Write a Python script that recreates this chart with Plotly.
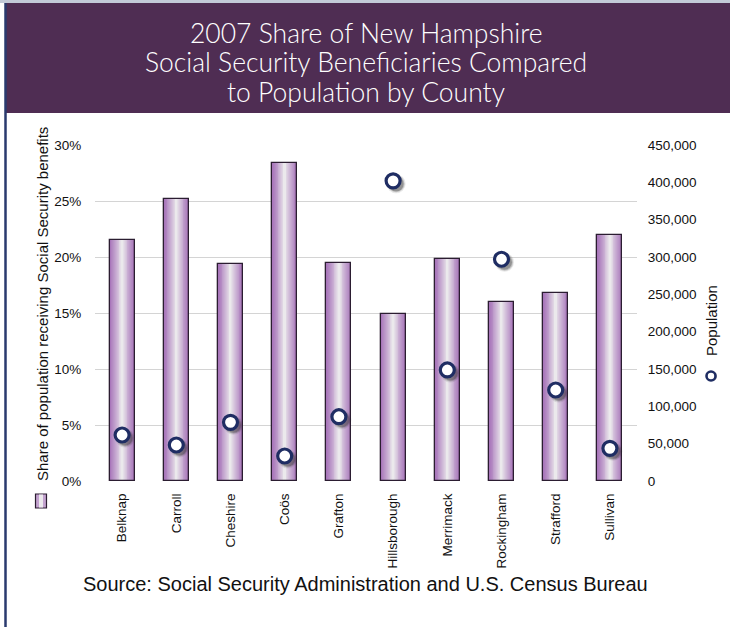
import plotly.graph_objects as go

# County data, 2007
counties = ["Belknap", "Carroll", "Cheshire", "Coös", "Grafton",
            "Hillsborough", "Merrimack", "Rockingham", "Strafford", "Sullivan"]
share_receiving = [0.215, 0.252, 0.1935, 0.284, 0.195,
                   0.149, 0.198, 0.1595, 0.1675, 0.2195]
population = [61600, 48200, 78600, 33500, 86100,
              402000, 148700, 297000, 121900, 43700]

share_ticks = [0, 0.05, 0.10, 0.15, 0.20, 0.25, 0.30]
pop_ticks = list(range(0, 450001, 50000))

title_lines = ["2007 Share of New Hampshire",
               "Social Security Beneficiaries Compared",
               "to Population by County"]

W, H = 730, 627
SH = 3  # marker shadow offset, px
L, R, T, B = 95, 93 - SH, 145, 146 - SH
PW, PH = W - L - R, H - T - B


def px_x(px):
    return (px - L) / PW


def px_y(py):
    return (H - B - py) / PH


def mix(c1, c2, t):
    return "#%02x%02x%02x" % tuple(round(a + (b - a) * t) for a, b in zip(c1, c2))


EDGE = (0xA8, 0x76, 0xBA)
MID = (0xEB, 0xE9, 0xEC)
OUTLINE = "#2b1d31"
NAVY = "#1f2d63"

fig = go.Figure()

# Bars (x/y): layers of shrinking width give a cylindrical shading
BAR_W = 0.46
N = 14
for i in range(N):
    t = i / (N - 1)
    fig.add_trace(go.Bar(
        x=counties, y=share_receiving,
        width=BAR_W * (1 - i / N),
        marker=dict(color=mix(EDGE, MID, t ** 1.15), line=dict(width=0)),
        showlegend=False, hoverinfo="skip",
    ))
fig.add_trace(go.Bar(
    x=counties, y=share_receiving, width=BAR_W,
    marker=dict(color="rgba(0,0,0,0)", line=dict(color=OUTLINE, width=1.3)),
    name="Share of population receiving Social Security benefits",
    showlegend=False,
))

# Soft drop shadow for the population markers (x2/y2, shifted down-right)
for size, alpha in [(19, 0.10), (17, 0.20), (15, 0.30)]:
    fig.add_trace(go.Scatter(
        x=counties, y=population, xaxis="x2", yaxis="y2", mode="markers",
        marker=dict(size=size, color=f"rgba(40,40,40,{alpha})", line=dict(width=0)),
        showlegend=False, hoverinfo="skip",
    ))

# Population markers (x3/y3, right-hand axis)
fig.add_trace(go.Scatter(
    x=counties, y=population, xaxis="x3", yaxis="y3", mode="markers",
    marker=dict(size=14, color="white", line=dict(color=NAVY, width=3.2)),
    name="Population", showlegend=False,
))

font_axis = dict(family="Liberation Sans, Arial, sans-serif", size=13.5, color="#111111")
x_dom = [0, (PW - SH) / PW]
y_dom = [SH / PH, 1]
cat_range = [-0.5, len(counties) - 0.5]

fig.update_layout(
    width=W, height=H,
    margin=dict(l=L, r=R, t=T, b=B),
    paper_bgcolor="white", plot_bgcolor="rgba(0,0,0,0)",
    barmode="overlay", bargap=0,
    showlegend=False,
    xaxis=dict(
        type="category", tickangle=-90, tickfont=font_axis, domain=x_dom,
        showgrid=False, showline=False, zeroline=False,
        ticks="outside", ticklen=6, tickcolor="rgba(0,0,0,0)",
        range=cat_range,
    ),
    yaxis=dict(
        range=[0, 0.30], tickvals=share_ticks, tickformat=".0%", domain=y_dom,
        tickfont=font_axis, showgrid=True, gridcolor="#d4d4d4", gridwidth=1.2,
        zeroline=False, showline=False,
        ticks="outside", ticklen=10, tickcolor="rgba(0,0,0,0)",
    ),
    xaxis2=dict(type="category", range=cat_range, domain=[SH / PW, 1],
                anchor="y2", visible=False),
    yaxis2=dict(range=[0, 450000], domain=[0, (PH - SH) / PH],
                anchor="x2", visible=False),
    xaxis3=dict(type="category", range=cat_range, domain=x_dom,
                anchor="y3", visible=False),
    yaxis3=dict(
        range=[0, 450000], tickvals=pop_ticks, tickformat=",", domain=y_dom,
        anchor="x3", side="right", tickfont=font_axis,
        showgrid=False, zeroline=False, showline=False,
        ticks="outside", ticklen=7, tickcolor="rgba(0,0,0,0)",
    ),
)

shapes = []
# Title banner
shapes.append(dict(type="rect", xref="paper", yref="paper",
                   x0=px_x(5), x1=px_x(731), y0=px_y(113), y1=px_y(3),
                   fillcolor="#4f2d53", line=dict(width=0), layer="below"))
# thin top border
shapes.append(dict(type="rect", xref="paper", yref="paper",
                   x0=px_x(0), x1=px_x(731), y0=px_y(3), y1=px_y(0),
                   fillcolor="#c3cad8", line=dict(width=0)))
# left frame line
shapes.append(dict(type="line", xref="paper", yref="paper",
                   x0=px_x(5.5), x1=px_x(5.5), y0=px_y(628), y1=px_y(3),
                   line=dict(color="#2a3a6e", width=2.5)))
# legend swatch for the bars
shapes.append(dict(type="rect", xref="paper", yref="paper",
                   x0=px_x(35.5), x1=px_x(46.5), y0=px_y(508), y1=px_y(494),
                   fillcolor="#c3a2cf", line=dict(color=OUTLINE, width=1.2)))
shapes.append(dict(type="rect", xref="paper", yref="paper",
                   x0=px_x(39), x1=px_x(43), y0=px_y(507.5), y1=px_y(494.5),
                   fillcolor="#ebe8ec", line=dict(width=0)))
# legend marker for population
shapes.append(dict(type="circle", xref="paper", yref="paper",
                   x0=px_x(708), x1=px_x(717), y0=px_y(381), y1=px_y(372),
                   fillcolor="rgba(40,40,40,0.3)", line=dict(width=0)))
shapes.append(dict(type="circle", xref="paper", yref="paper",
                   x0=px_x(706.5), x1=px_x(715.5), y0=px_y(380.5), y1=px_y(371.5),
                   fillcolor="white", line=dict(color=NAVY, width=2.6)))
fig.update_layout(shapes=shapes)

annotations = []
for line, ypx in zip(title_lines, [33, 62.5, 92]):
    annotations.append(dict(
        text=line, xref="paper", yref="paper", x=px_x(366), y=px_y(ypx),
        xanchor="center", yanchor="middle", showarrow=False,
        font=dict(family="Lato, sans-serif", size=26.5, color="white", weight=300)))
annotations += [
    dict(text="Share of population receiving Social Security benefits",
         xref="paper", yref="paper", x=px_x(42), y=px_y(304), xanchor="center", yanchor="middle",
         textangle=-90, showarrow=False,
         font=dict(family="Liberation Sans, Arial, sans-serif", size=15, color="#111111")),
    dict(text="Population",
         xref="paper", yref="paper", x=px_x(711), y=px_y(321), xanchor="center", yanchor="middle",
         textangle=-90, showarrow=False,
         font=dict(family="Liberation Sans, Arial, sans-serif", size=15, color="#111111")),
    dict(text="Source: Social Security Administration and U.S. Census Bureau",
         xref="paper", yref="paper", x=px_x(365), y=px_y(584), xanchor="center", yanchor="middle",
         showarrow=False,
         font=dict(family="Liberation Sans, Arial, sans-serif", size=20, color="#111111")),
]
fig.update_layout(annotations=annotations)

fig.write_html("out.html")
